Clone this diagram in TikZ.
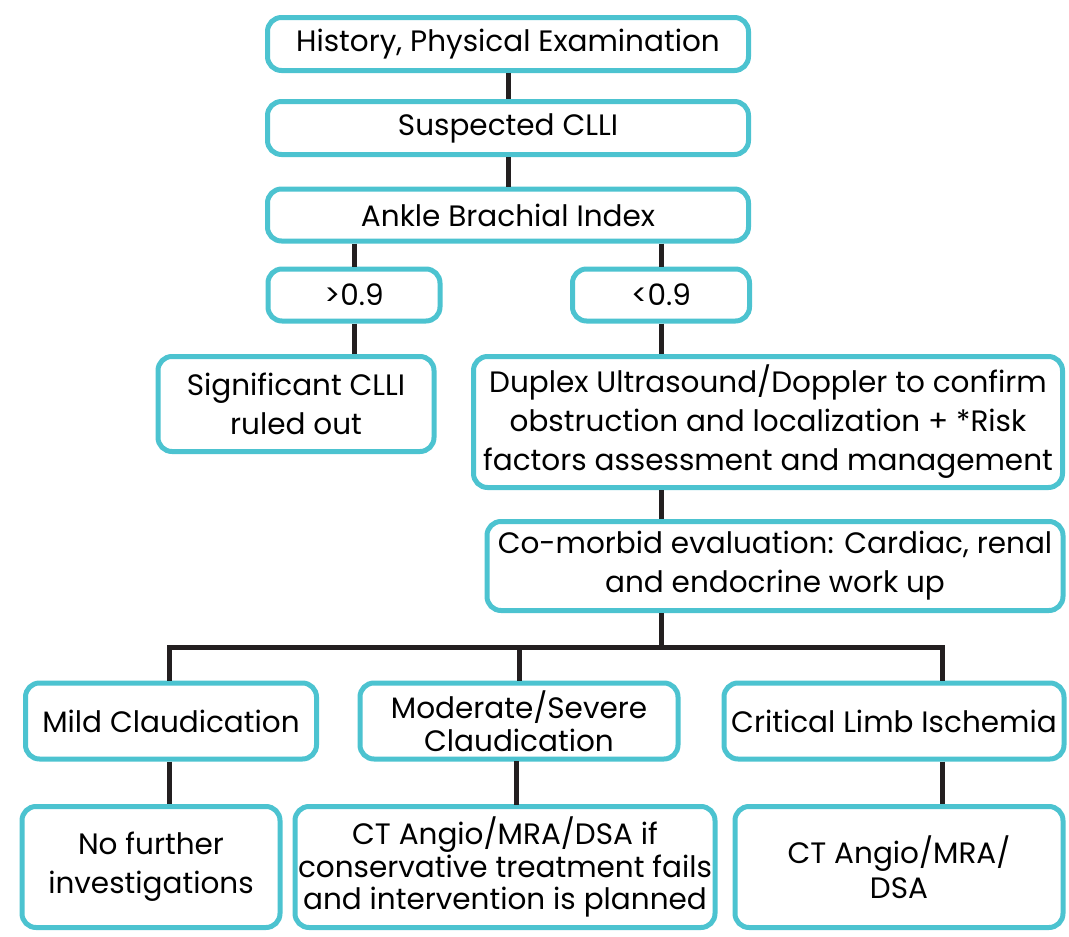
\documentclass[tikz,border=0pt]{standalone}
\usepackage{fontspec}
\setmainfont{Poppins}
\usepackage{xcolor}
\definecolor{boxcyan}{RGB}{76,195,208}
\definecolor{linkblack}{RGB}{35,31,32}

\begin{document}
\begin{tikzpicture}[
  x=1pt, y=-1pt,
  every node/.style={font=\fontsize{29.5}{39}\selectfont, align=center, inner sep=0pt},
  tight/.style={font=\fontsize{29.5}{32.5}\selectfont},
  box/.style={draw=boxcyan, line width=5pt, rounded corners=14pt, fill=white},
  link/.style={draw=linkblack, line width=5pt}]

\useasboundingbox (0,0) rectangle (1069,937);

% top column
\node[box, minimum width=481pt, minimum height=53pt] (hist) at (508,44) {History, Physical Examination};
\node[box, minimum width=481pt, minimum height=53pt] (susp) at (508,128) {Suspected CLLI};
\node[box, minimum width=481pt, minimum height=52pt] (abi) at (508,215) {Ankle Brachial Index};

% ABI result
\node[box, minimum width=172pt, minimum height=52pt] (gt) at (354,295) {>0.9};
\node[box, minimum width=177pt, minimum height=52pt] (lt) at (661,295) {<0.9};
\node[box, minimum width=276pt, minimum height=95pt] (sig) at (296,404) {Significant CLLI\\ruled out};
\node[box, minimum width=589pt, minimum height=131pt] (dup) at (768,422) {Duplex Ultrasound/Doppler to confirm\\obstruction and localization + *Risk\\factors assessment and management};
\node[box, minimum width=576pt, minimum height=89pt] (com) at (775,566) {Co-morbid evaluation: Cardiac, renal\\and endocrine work up};

% severity
\node[box, minimum width=291pt, minimum height=76pt] (mild) at (171,721) {Mild Claudication};
\node[box, tight, minimum width=318pt, minimum height=76pt] (mod) at (519,721) {Moderate/Severe\\Claudication};
\node[box, minimum width=340pt, minimum height=76pt] (cli) at (894,721) {Critical Limb Ischemia};
\node[box, minimum width=258pt, minimum height=121pt] (nofu) at (151,867) {No further\\investigations};
\node[box, tight, minimum width=420pt, minimum height=121pt] (ctif) at (505,867) {CT Angio/MRA/DSA if\\conservative treatment fails\\and intervention is planned};
\node[box, font=\fontsize{29.5}{35}\selectfont, minimum width=328pt, minimum height=121pt] (ct) at (899,867) {CT Angio/MRA/\\DSA};

\coordinate (barC) at (661,647);
\coordinate (barL) at (169,647);
\coordinate (barM) at (519,647);
\coordinate (barR) at (942,647);

\draw[link] (hist.south) -- (susp.north);
\draw[link] (susp.south) -- (abi.north);
\draw[link] (gt.north |- abi.south) -- (gt.north);
\draw[link] (lt.north |- abi.south) -- (lt.north);
\draw[link] (gt.south) -- (gt.south |- sig.north);
\draw[link] (lt.south) -- (lt.south |- dup.north);
\draw[link] (lt.south |- dup.south) -- (lt.south |- com.north);
\draw[link] (lt.south |- com.south) -- (barC);
\draw[link] (barL |- mild.north) -- (barL) -- (barR) -- (barR |- cli.north);
\draw[link] (barM) -- (barM |- mod.north);
\draw[link] (barL |- mild.south) -- (barL |- nofu.north);
\draw[link] (516,761) -- (516,805);
\draw[link] (barR |- cli.south) -- (barR |- ct.north);
\end{tikzpicture}
\end{document}
